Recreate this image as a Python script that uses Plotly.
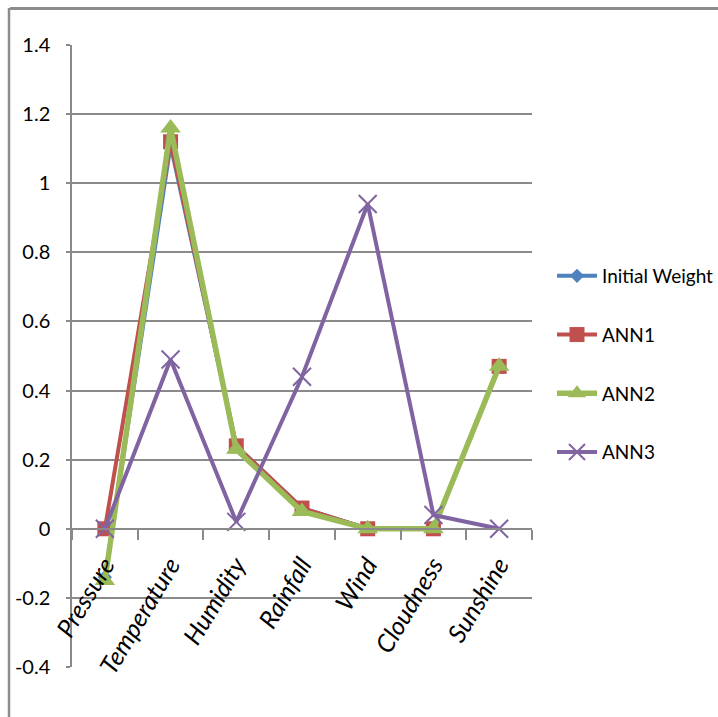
import plotly.graph_objects as go

# Weather variables and the weights found by each model
categories = ["Pressure", "Temperature", "Humidity", "Rainfall", "Wind", "Cloudness", "Sunshine"]
initial_weight = [-0.14, 1.11, 0.24, 0.06, 0.0, 0.0, 0.47]
ann1 = [0.0, 1.12, 0.24, 0.06, 0.0, 0.0, 0.47]
ann2 = [-0.15, 1.16, 0.23, 0.05, 0.0, 0.0, 0.47]
ann3 = [0.0, 0.49, 0.02, 0.44, 0.94, 0.04, 0.0]
y_ticks = [-0.4, -0.2, 0, 0.2, 0.4, 0.6, 0.8, 1, 1.2, 1.4]

FONT = "Lato, Liberation Sans, sans-serif"
GRID = "#8a8a8a"

series = [
    ("Initial Weight", initial_weight, "#4F81BD", dict(symbol="diamond", size=11), 4),
    ("ANN1", ann1, "#C0504D", dict(symbol="square", size=15), 4),
    ("ANN2", ann2, "#9BBB59", dict(symbol="triangle-up", size=18), 5.5),
    ("ANN3", ann3, "#8064A2", dict(symbol="x-thin", size=18, line=dict(width=2, color="#8064A2")), 4),
]

fig = go.Figure()
for name, vals, color, marker, width in series:
    fig.add_trace(go.Scatter(
        x=categories, y=vals, name=name, mode="lines+markers",
        line=dict(color=color, width=width),
        marker=dict(color=color, **marker),
        legendgroup=name,
    ))

ymin, ymax = -0.4, 1.4
fig.update_layout(
    width=718, height=717,
    margin=dict(l=72, r=186, t=45, b=50, autoexpand=False),
    paper_bgcolor="white", plot_bgcolor="white",
    font=dict(family=FONT, size=18, color="black"),
    showlegend=True,
    legend=dict(
        xref="container", yref="container",
        x=552 / 718, y=1 - 257 / 717, xanchor="left", yanchor="top",
        font=dict(size=19), tracegroupgap=31, itemwidth=40,
        bgcolor="rgba(0,0,0,0)",
    ),
    xaxis=dict(
        type="category", anchor="free", position=(0 - ymin) / (ymax - ymin),
        showline=True, linecolor=GRID, linewidth=1.5,
        ticks="outside", ticklen=10, tickcolor=GRID, tickwidth=1.5,
        tickson="boundaries", showgrid=False,
        tickangle=-59, ticklabelstandoff=11,
        tickfont=dict(family=FONT, size=25, style="italic"),
        range=[-0.5, 6.5],
    ),
    yaxis=dict(
        range=[ymin, ymax], tickvals=y_ticks,
        ticktext=[("%g" % v) for v in y_ticks],
        showline=True, linecolor=GRID, linewidth=1.5,
        ticks="outside", ticklen=4, tickcolor=GRID, tickwidth=1.5,
        showgrid=True, gridcolor=GRID, gridwidth=1.5, zeroline=False,
        ticklabelstandoff=12,
        tickfont=dict(size=20),
    ),
    shapes=[
        # frame edges around the chart
        dict(type="line", xref="paper", yref="paper",
             x0=(10 - 72) / 460, x1=(720 - 72) / 460,
             y0=(667 - 8.5) / 622, y1=(667 - 8.5) / 622,
             line=dict(color="#8c8c8c", width=3)),
        dict(type="line", xref="paper", yref="paper",
             x0=(9 - 72) / 460, x1=(9 - 72) / 460,
             y0=(667 - 8) / 622, y1=(667 - 720) / 622,
             line=dict(color="#8c8c8c", width=2.5)),
    ],
)

fig.write_html("out.html")
